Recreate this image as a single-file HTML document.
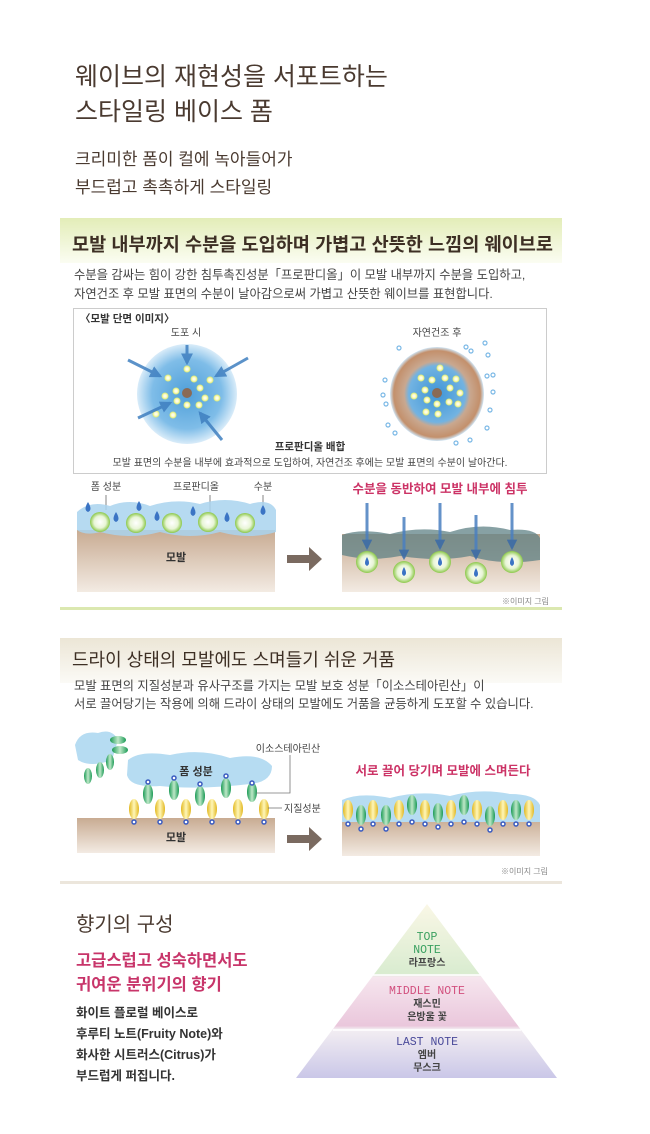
<!DOCTYPE html>
<html><head><meta charset="utf-8"><style>
body{margin:0;background:#fff}
svg{display:block}
text{font-family:"Liberation Sans","Noto Sans CJK KR",sans-serif}
</style></head><body>
<svg width="650" height="1134" viewBox="0 0 650 1134" xmlns="http://www.w3.org/2000/svg">
<defs>
<marker id="ah" viewBox="0 0 10 10" refX="8" refY="5" markerWidth="4" markerHeight="4" orient="auto"><path d="M0 0 L10 5 L0 10z" fill="#3f7fc0"/></marker>
<marker id="ah2" viewBox="0 0 10 10" refX="8" refY="5" markerWidth="3.5" markerHeight="3.5" orient="auto"><path d="M0 0 L10 5 L0 10z" fill="#3a6aa8"/></marker>
<linearGradient id="hg1" x1="0" y1="0" x2="0" y2="1"><stop offset="0" stop-color="#e3edb8"/><stop offset="1" stop-color="#fbfdf2"/></linearGradient>
<linearGradient id="hg2" x1="0" y1="0" x2="0" y2="1"><stop offset="0" stop-color="#ece6d6"/><stop offset="1" stop-color="#fbfaf6"/></linearGradient>
<radialGradient id="blue"><stop offset="0" stop-color="#4f9fd9"/><stop offset="0.7" stop-color="#7fbde8"/><stop offset="1" stop-color="#d9ecf9"/></radialGradient>
<radialGradient id="ring"><stop offset="0" stop-color="#3f95d6"/><stop offset="0.6" stop-color="#72b3e2"/><stop offset="0.7" stop-color="#c9a890"/><stop offset="0.92" stop-color="#c3906c"/><stop offset="1" stop-color="#cfe6f7"/></radialGradient>
<linearGradient id="hair" x1="0" y1="0" x2="0" y2="1"><stop offset="0" stop-color="#c8ab92"/><stop offset="1" stop-color="#f3ebe3"/></linearGradient>
<linearGradient id="pyr" x1="0" y1="0" x2="0" y2="1"><stop offset="0" stop-color="#faf7e6"/><stop offset="0.4" stop-color="#d9ecd0"/><stop offset="0.42" stop-color="#f6e6ee"/><stop offset="0.7" stop-color="#eac7dc"/><stop offset="0.72" stop-color="#f3eef2"/><stop offset="1" stop-color="#cac7e8"/></linearGradient>
<radialGradient id="ball"><stop offset="0" stop-color="#fff"/><stop offset="0.6" stop-color="#e8f5d6"/><stop offset="1" stop-color="#8cc84a"/></radialGradient>
<radialGradient id="dot"><stop offset="0" stop-color="#fff"/><stop offset="0.5" stop-color="#fbfbc8"/><stop offset="1" stop-color="#d6e86a"/></radialGradient>
<linearGradient id="grn" x1="0" y1="0" x2="1" y2="0"><stop offset="0" stop-color="#1a9a55"/><stop offset="0.5" stop-color="#bfe8c8"/><stop offset="1" stop-color="#1a9a55"/></linearGradient>
<linearGradient id="yel" x1="0" y1="0" x2="1" y2="0"><stop offset="0" stop-color="#e2b820"/><stop offset="0.5" stop-color="#fff6b8"/><stop offset="1" stop-color="#e2b820"/></linearGradient>
</defs>

<text x="75" y="85" font-size="25" fill="#4a3a30">웨이브의 재현성을 서포트하는</text>
<text x="75" y="120" font-size="25" fill="#4a3a30">스타일링 베이스 폼</text>
<text x="75" y="165" font-size="17" fill="#4a3a30">크리미한 폼이 컬에 녹아들어가</text>
<text x="75" y="193" font-size="17" fill="#4a3a30">부드럽고 촉촉하게 스타일링</text>

<!-- Section 1 -->
<rect x="60" y="218" width="502" height="392" fill="#fff"/>
<rect x="60" y="218" width="502" height="45" fill="url(#hg1)"/>
<rect x="60" y="607" width="502" height="3" fill="#dbe8b0"/>
<text x="72" y="251" font-size="18.5" font-weight="bold" fill="#3d2f24" textLength="481" lengthAdjust="spacingAndGlyphs">모발 내부까지 수분을 도입하며 가볍고 산뜻한 느낌의 웨이브로</text>
<text x="74" y="279" font-size="12.3" fill="#444">수분을 감싸는 힘이 강한 침투촉진성분「프로판디올」이 모발 내부까지 수분을 도입하고,</text>
<text x="74" y="298" font-size="12.3" fill="#444">자연건조 후 모발 표면의 수분이 날아감으로써 가볍고 산뜻한 웨이브를 표현합니다.</text>
<rect x="73.5" y="308.5" width="473" height="165" fill="#fff" stroke="#ccc"/>
<text x="80" y="322" font-size="10.5" font-weight="bold" fill="#333">〈모발 단면 이미지〉</text>
<text x="186" y="336" font-size="10" fill="#444" text-anchor="middle">도포 시</text>
<text x="437" y="336" font-size="10" fill="#444" text-anchor="middle">자연건조 후</text>
<circle cx="187" cy="394" r="50" fill="url(#blue)"/>
<circle cx="437" cy="394" r="47" fill="url(#ring)"/>
<g fill="url(#dot)">
<circle cx="187" cy="369" r="3.5"/><circle cx="168" cy="378" r="3.5"/><circle cx="194" cy="379" r="3.5"/><circle cx="210" cy="380" r="3.5"/><circle cx="176" cy="391" r="3.5"/><circle cx="200" cy="388" r="3.5"/><circle cx="165" cy="396" r="3.5"/><circle cx="205" cy="398" r="3.5"/><circle cx="177" cy="401" r="3.5"/><circle cx="217" cy="398" r="3.5"/><circle cx="187" cy="405" r="3.5"/><circle cx="199" cy="405" r="3.5"/><circle cx="173" cy="415" r="3.5"/><circle cx="156" cy="414" r="3.5"/>
<circle cx="440" cy="368" r="3.5"/><circle cx="421" cy="378" r="3.5"/><circle cx="432" cy="380" r="3.5"/><circle cx="445" cy="378" r="3.5"/><circle cx="456" cy="379" r="3.5"/><circle cx="425" cy="390" r="3.5"/><circle cx="450" cy="388" r="3.5"/><circle cx="414" cy="396" r="3.5"/><circle cx="460" cy="393" r="3.5"/><circle cx="427" cy="400" r="3.5"/><circle cx="437" cy="404" r="3.5"/><circle cx="449" cy="402" r="3.5"/><circle cx="458" cy="404" r="3.5"/><circle cx="426" cy="412" r="3.5"/><circle cx="438" cy="414" r="3.5"/>
</g>
<circle cx="187" cy="393" r="5" fill="#8a6a55"/><circle cx="437" cy="393" r="5" fill="#8a6a55"/>
<g stroke="#3f7fc0" stroke-width="3" opacity="0.85">
<line x1="187" y1="345" x2="187" y2="363" marker-end="url(#ah)"/><line x1="128" y1="360" x2="160" y2="376" marker-end="url(#ah)"/><line x1="248" y1="358" x2="216" y2="376" marker-end="url(#ah)"/><line x1="138" y1="418" x2="170" y2="403" marker-end="url(#ah)"/><line x1="222" y1="440" x2="200" y2="413" marker-end="url(#ah)"/>
</g>
<g fill="none" stroke="#7ab8e6" stroke-width="1.2">
<circle cx="399" cy="348" r="2"/><circle cx="385" cy="380" r="2"/><circle cx="386" cy="404" r="2"/><circle cx="388" cy="425" r="2"/><circle cx="395" cy="433" r="2"/><circle cx="466" cy="347" r="2"/><circle cx="488" cy="355" r="2"/><circle cx="487" cy="376" r="2"/><circle cx="493" cy="392" r="2"/><circle cx="490" cy="410" r="2"/><circle cx="487" cy="428" r="2"/><circle cx="470" cy="440" r="2"/><circle cx="456" cy="443" r="2"/><circle cx="383" cy="395" r="2"/><circle cx="485" cy="343" r="2"/><circle cx="471" cy="351" r="2"/><circle cx="493" cy="375" r="2"/>
</g>
<text x="310" y="450" font-size="10.5" font-weight="bold" fill="#333" text-anchor="middle">프로판디올 배합</text>
<text x="310" y="466" font-size="10" fill="#444" text-anchor="middle">모발 표면의 수분을 내부에 효과적으로 도입하여, 자연건조 후에는 모발 표면의 수분이 날아간다.</text>

<text x="106" y="490" font-size="10" fill="#444" text-anchor="middle">폼 성분</text>
<text x="196" y="490" font-size="10" fill="#444" text-anchor="middle">프로판디올</text>
<text x="263" y="490" font-size="10" fill="#444" text-anchor="middle">수분</text>
<g stroke="#666" stroke-width="0.8"><line x1="106" y1="495" x2="106" y2="510"/><line x1="210" y1="495" x2="210" y2="520"/><line x1="263" y1="495" x2="263" y2="505"/></g>
<rect x="77" y="530" width="198" height="62" fill="url(#hair)"/>
<path d="M77 512 Q90 500 110 506 Q130 498 150 506 Q175 498 200 504 Q225 496 250 504 Q270 498 276 510 L276 532 Q250 540 220 532 Q190 540 160 532 Q130 540 100 532 Q85 536 77 530Z" fill="#a9d3ee" opacity="0.85"/>
<g fill="url(#ball)"><circle cx="100" cy="522" r="10"/><circle cx="136" cy="523" r="10"/><circle cx="172" cy="523" r="10"/><circle cx="208" cy="522" r="10"/><circle cx="245" cy="523" r="10"/></g>
<g fill="#3b74c4"><path d="M88 502 q-5 8 0 10 q5 -2 0 -10z"/><path d="M116 512 q-5 8 0 10 q5 -2 0 -10z"/><path d="M139 501 q-5 8 0 10 q5 -2 0 -10z"/><path d="M157 511 q-5 8 0 10 q5 -2 0 -10z"/><path d="M193 506 q-5 8 0 10 q5 -2 0 -10z"/><path d="M227 512 q-5 8 0 10 q5 -2 0 -10z"/><path d="M263 505 q-5 8 0 10 q5 -2 0 -10z"/></g>
<text x="176" y="561" font-size="11" font-weight="bold" fill="#333" text-anchor="middle">모발</text>
<path d="M287 555 h22 v-8 l13 12 -13 12 v-8 h-22z" fill="#7a6a60"/>
<text x="440" y="493" font-size="12.5" font-weight="bold" fill="#cc3366" text-anchor="middle">수분을 동반하여 모발 내부에 침투</text>
<rect x="342" y="534" width="198" height="58" fill="url(#hair)"/>
<path d="M342 535 Q360 528 390 534 Q420 526 450 532 Q480 522 510 530 Q535 528 540 538 L540 560 Q500 566 470 556 Q440 562 400 556 Q370 562 342 555Z" fill="#5f8286" opacity="0.75"/>
<g fill="url(#ball)"><circle cx="367" cy="562" r="11"/><circle cx="404" cy="572" r="11"/><circle cx="440" cy="562" r="11"/><circle cx="476" cy="573" r="11"/><circle cx="512" cy="562" r="11"/></g>
<g fill="#3b74c4"><path d="M367 557 q-4 7 0 9 q4 -2 0 -9z"/><path d="M404 567 q-4 7 0 9 q4 -2 0 -9z"/><path d="M440 557 q-4 7 0 9 q4 -2 0 -9z"/><path d="M476 568 q-4 7 0 9 q4 -2 0 -9z"/><path d="M512 557 q-4 7 0 9 q4 -2 0 -9z"/></g>
<g stroke="#4a7fc0" stroke-width="3" opacity="0.85"><line x1="367" y1="503" x2="367" y2="548" marker-end="url(#ah2)"/><line x1="404" y1="517" x2="404" y2="558" marker-end="url(#ah2)"/><line x1="440" y1="503" x2="440" y2="548" marker-end="url(#ah2)"/><line x1="476" y1="515" x2="476" y2="558" marker-end="url(#ah2)"/><line x1="512" y1="503" x2="512" y2="548" marker-end="url(#ah2)"/></g>
<text x="549" y="604" font-size="8" fill="#888" text-anchor="end">※이미지 그림</text>

<!-- Section 2 -->
<rect x="60" y="638" width="502" height="45" fill="url(#hg2)"/>
<rect x="60" y="881" width="502" height="3" fill="#ece6dc"/>
<text x="72" y="666" font-size="18" fill="#3d2f24">드라이 상태의 모발에도 스며들기 쉬운 거품</text>
<text x="74" y="690" font-size="12.3" fill="#444">모발 표면의 지질성분과 유사구조를 가지는 모발 보호 성분「이소스테아린산」이</text>
<text x="74" y="708" font-size="12.3" fill="#444">서로 끌어당기는 작용에 의해 드라이 상태의 모발에도 거품을 균등하게 도포할 수 있습니다.</text>
<path d="M75 745 Q80 730 98 733 Q112 728 118 740 L112 760 Q90 768 78 760Z" fill="#b6dcf2"/>
<path d="M128 760 Q140 750 170 755 Q200 748 230 758 Q260 752 272 766 Q272 782 250 784 Q200 790 160 786 Q130 788 127 775Z" fill="#b6dcf2"/>
<text x="196" y="775" font-size="11" font-weight="bold" fill="#333" text-anchor="middle">폼 성분</text>
<rect x="77" y="818" width="198" height="35" fill="url(#hair)"/>
<text x="176" y="841" font-size="11" font-weight="bold" fill="#333" text-anchor="middle">모발</text>
<g fill="url(#yel)"><ellipse cx="134" cy="809" rx="5" ry="10"/><ellipse cx="160" cy="809" rx="5" ry="10"/><ellipse cx="186" cy="809" rx="5" ry="10"/><ellipse cx="212" cy="809" rx="5" ry="10"/><ellipse cx="238" cy="809" rx="5" ry="10"/><ellipse cx="264" cy="809" rx="5" ry="10"/></g>
<g fill="url(#grn)"><ellipse cx="148" cy="794" rx="5" ry="10"/><ellipse cx="174" cy="790" rx="5" ry="10"/><ellipse cx="200" cy="796" rx="5" ry="10"/><ellipse cx="226" cy="788" rx="5" ry="10"/><ellipse cx="252" cy="792" rx="5" ry="10"/><ellipse cx="88" cy="776" rx="4" ry="8"/><ellipse cx="100" cy="770" rx="4" ry="8"/><ellipse cx="110" cy="762" rx="4" ry="8"/><ellipse cx="120" cy="750" rx="8" ry="4"/><ellipse cx="118" cy="740" rx="8" ry="4"/></g>
<g fill="#fff" stroke="#3b5cc0" stroke-width="1.5"><circle cx="134" cy="822" r="2"/><circle cx="160" cy="822" r="2"/><circle cx="186" cy="822" r="2"/><circle cx="212" cy="822" r="2"/><circle cx="238" cy="822" r="2"/><circle cx="264" cy="822" r="2"/><circle cx="148" cy="782" r="2"/><circle cx="174" cy="778" r="2"/><circle cx="200" cy="784" r="2"/><circle cx="226" cy="776" r="2"/><circle cx="252" cy="783" r="2"/></g>
<polyline points="256,793 290,793 290,755" fill="none" stroke="#777" stroke-width="0.8"/>
<line x1="268" y1="808" x2="282" y2="808" stroke="#777" stroke-width="0.8"/>
<text x="288" y="752" font-size="10" fill="#444" text-anchor="middle">이소스테아린산</text>
<text x="284" y="812" font-size="10" fill="#444">지질성분</text>
<path d="M287 835 h22 v-8 l13 12 -13 12 v-8 h-22z" fill="#7a6a60"/>
<text x="443" y="775" font-size="12.5" font-weight="bold" fill="#cc3366" text-anchor="middle">서로 끌어 당기며 모발에 스며든다</text>
<rect x="342" y="818" width="198" height="38" fill="url(#hair)"/>
<path d="M342 800 Q360 792 390 798 Q420 790 450 796 Q480 788 510 794 Q535 794 540 805 L540 822 L342 822Z" fill="#b6dcf2"/>
<g fill="url(#yel)"><ellipse cx="348" cy="810" rx="5" ry="10"/><ellipse cx="373" cy="810" rx="5" ry="10"/><ellipse cx="399" cy="810" rx="5" ry="10"/><ellipse cx="425" cy="810" rx="5" ry="10"/><ellipse cx="451" cy="810" rx="5" ry="10"/><ellipse cx="477" cy="810" rx="5" ry="10"/><ellipse cx="503" cy="810" rx="5" ry="10"/><ellipse cx="529" cy="810" rx="5" ry="10"/></g>
<g fill="url(#grn)"><ellipse cx="361" cy="815" rx="5" ry="10"/><ellipse cx="386" cy="815" rx="5" ry="10"/><ellipse cx="412" cy="805" rx="5" ry="10"/><ellipse cx="438" cy="813" rx="5" ry="10"/><ellipse cx="464" cy="805" rx="5" ry="10"/><ellipse cx="490" cy="816" rx="5" ry="10"/><ellipse cx="516" cy="810" rx="5" ry="10"/></g>
<g fill="#fff" stroke="#3b5cc0" stroke-width="1.5"><circle cx="348" cy="824" r="2"/><circle cx="373" cy="824" r="2"/><circle cx="399" cy="824" r="2"/><circle cx="425" cy="824" r="2"/><circle cx="451" cy="824" r="2"/><circle cx="477" cy="824" r="2"/><circle cx="503" cy="824" r="2"/><circle cx="529" cy="824" r="2"/><circle cx="361" cy="829" r="2"/><circle cx="386" cy="829" r="2"/><circle cx="412" cy="822" r="2"/><circle cx="438" cy="827" r="2"/><circle cx="464" cy="822" r="2"/><circle cx="490" cy="830" r="2"/><circle cx="516" cy="824" r="2"/></g>
<text x="548" y="874" font-size="8" fill="#888" text-anchor="end">※이미지 그림</text>

<!-- Fragrance -->
<text x="76" y="931" font-size="20" fill="#4a3a30">향기의 구성</text>
<text x="76" y="966" font-size="16.5" font-weight="bold" fill="#c8356a">고급스럽고 성숙하면서도</text>
<text x="76" y="990" font-size="16.5" font-weight="bold" fill="#c8356a">귀여운 분위기의 향기</text>
<g font-size="12.5" font-weight="bold" fill="#333">
<text x="76" y="1017">화이트 플로럴 베이스로</text>
<text x="76" y="1038">후루티 노트(Fruity Note)와</text>
<text x="76" y="1059">화사한 시트러스(Citrus)가</text>
<text x="76" y="1080">부드럽게 퍼집니다.</text>
</g>
<polygon points="427,904 557,1078 296,1078" fill="url(#pyr)"/>
<line x1="373" y1="975" x2="481" y2="975" stroke="#fff" stroke-width="1.5"/>
<line x1="333" y1="1030" x2="521" y2="1030" stroke="#fff" stroke-width="1.5"/>
<g text-anchor="middle" font-size="11.5">
<text x="427" y="940" fill="#3aa060" style="font-family:'Liberation Mono',monospace">TOP</text>
<text x="427" y="953" fill="#3aa060" style="font-family:'Liberation Mono',monospace">NOTE</text>
<text x="427" y="994" fill="#d2507e" style="font-family:'Liberation Mono',monospace">MIDDLE NOTE</text>
<text x="427" y="1045" fill="#4a4a9a" style="font-family:'Liberation Mono',monospace">LAST NOTE</text>
</g>
<g text-anchor="middle" font-size="10" font-weight="bold" fill="#444">
<text x="427" y="966">라프랑스</text>
<text x="427" y="1007">재스민</text>
<text x="427" y="1020">은방울 꽃</text>
<text x="427" y="1058">엠버</text>
<text x="427" y="1071">무스크</text>
</g>
</svg>
</body></html>
